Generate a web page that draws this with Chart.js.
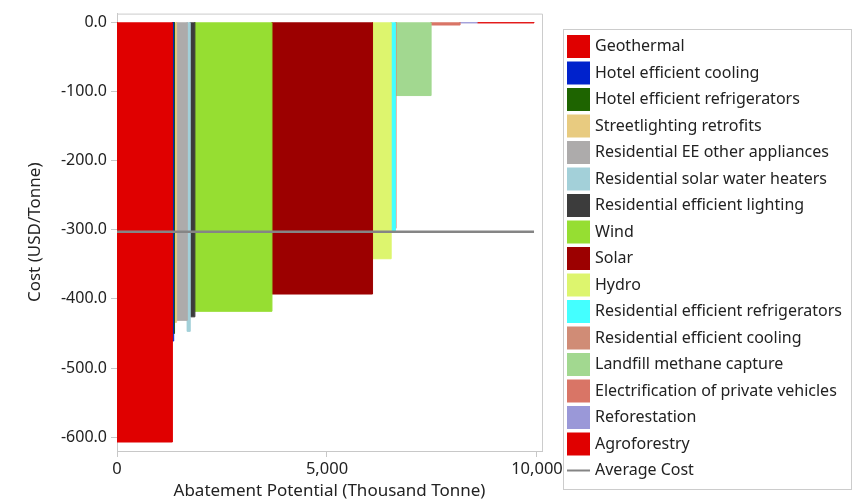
<!DOCTYPE html>
<html>
<head>
<meta charset="utf-8">
<script src="https://cdn.jsdelivr.net/npm/chart.js@4/dist/chart.umd.min.js"></script>
<style>
  html, body { margin: 0; padding: 0; background: #fff; }
  #wrap { width: 859px; height: 501px; }
</style>
</head>
<body>
<div id="wrap"><canvas id="mac"></canvas></div>
<script>
// abatement options, in the order they sit along the curve
const categories = [
  "Geothermal",
  "Hotel efficient cooling",
  "Hotel efficient refrigerators",
  "Streetlighting retrofits",
  "Residential EE other appliances",
  "Residential solar water heaters",
  "Residential efficient lighting",
  "Wind",
  "Solar",
  "Hydro",
  "Residential efficient refrigerators",
  "Residential efficient cooling",
  "Landfill methane capture",
  "Electrification of private vehicles",
  "Reforestation",
  "Agroforestry"
];
// abatement potential (thousand tonne) = bar width
const potential = [1320, 30, 20, 50, 255, 70, 110, 1835, 2395, 445, 100, 15, 835, 690, 410, 1350];
// cost (USD/tonne) = bar height
const cost = [-607, -461, -450, -434, -431, -447, -426, -418, -393, -342, -302, -298, -106, -4, -1, -1];
const colors = [
  "#e00000", "#0022cc", "#1e6400", "#e8cb80", "#adabab", "#a3d0d9", "#3c3c3c", "#96de32",
  "#9c0000", "#ddf56e", "#44ffff", "#d08c76", "#a2d890", "#d97566", "#9a98d8", "#e00000"
];
const averageCost = -303;
const yTicks = [0, -100, -200, -300, -400, -500, -600];
const xTicks = [0, 5000, 10000];

const FONT = '"Noto Sans", "Open Sans", sans-serif';
const TXT = '#222';

// build one filled rectangle per option
var datasets = [];
var start = 0;
for (var i = 0; i < categories.length; i++) {
    var end = start + potential[i];
    datasets.push({
        label: categories[i],
        data: [{x: start, y: 0}, {x: start, y: cost[i]}, {x: end, y: cost[i]}, {x: end, y: 0}],
        showLine: true,
        fill: 'origin',
        backgroundColor: colors[i],
        borderColor: colors[i],
        borderWidth: 1,
        pointRadius: 0,
        tension: 0,
        order: 2
    });
    start = end;
}
var total = start;

datasets.push({
    label: "Average Cost",
    data: [{x: 0, y: averageCost}, {x: total, y: averageCost}],
    showLine: true,
    fill: false,
    borderColor: '#858585',
    borderWidth: 2.5,
    pointRadius: 0,
    order: 1
});

// frame round the plot + legend box on the right
const framePlugin = {
    id: 'frame',
    afterDraw(chart) {
        const ctx = chart.ctx;
        const a = chart.chartArea;
        ctx.save();
        ctx.strokeStyle = '#cccccc';
        ctx.lineWidth = 1;
        ctx.beginPath();
        ctx.moveTo(a.left, a.top + 0.5);
        ctx.lineTo(a.right + 0.5, a.top + 0.5);
        ctx.lineTo(a.right + 0.5, a.bottom);
        ctx.stroke();

        // legend
        const lx = a.right + 21, ly = 29, lw = 288, lh = 460;
        ctx.strokeRect(lx + 0.5, ly + 0.5, lw, lh);
        ctx.font = '16px ' + FONT;
        ctx.textBaseline = 'middle';
        ctx.fillStyle = TXT;
        const step = 26.5;
        const sx = lx + 4, sw = 23, sh = 23;
        let y = ly + 6;
        for (let i = 0; i < categories.length; i++) {
            ctx.fillStyle = colors[i];
            ctx.fillRect(sx, y, sw, sh);
            ctx.fillStyle = TXT;
            ctx.fillText(categories[i], sx + sw + 5, y + sh / 2);
            y += step;
        }
        ctx.strokeStyle = '#858585';
        ctx.lineWidth = 2;
        ctx.beginPath();
        ctx.moveTo(sx, y + sh / 2);
        ctx.lineTo(sx + sw, y + sh / 2);
        ctx.stroke();
        ctx.fillStyle = TXT;
        ctx.fillText("Average Cost", sx + sw + 5, y + sh / 2);
        ctx.restore();
    }
};

new Chart(document.getElementById('mac'), {
    type: 'scatter',
    data: { datasets: datasets },
    plugins: [framePlugin],
    options: {
        responsive: true,
        maintainAspectRatio: false,
        animation: false,
        layout: { padding: { left: 23, right: 317, top: 9, bottom: 0 } },
        plugins: { legend: { display: false }, tooltip: { enabled: false } },
        scales: {
            x: {
                type: 'linear',
                min: 0,
                max: 10120,
                afterBuildTicks: function (s) { s.ticks = xTicks.map(v => ({value: v})); },
                afterFit: function (s) { s.height = 50; },
                ticks: {
                    color: TXT,
                    font: { family: FONT, size: 16.5 },
                    padding: 2,
                    maxRotation: 0,
                    callback: v => v.toLocaleString('en-US')
                },
                grid: { drawOnChartArea: false, tickLength: 6, color: '#c8c8c8' },
                border: { color: '#c8c8c8' },
                title: {
                    display: true,
                    text: 'Abatement Potential (Thousand Tonne)',
                    color: TXT,
                    font: { family: FONT, size: 17 },
                    padding: { top: 0, bottom: 0 }
                }
            },
            y: {
                min: -620,
                max: 12.5,
                afterBuildTicks: function (s) { s.ticks = yTicks.map(v => ({value: v})); },
                afterFit: function (s) { s.width = 94; },
                ticks: {
                    color: TXT,
                    font: { family: FONT, size: 16 },
                    padding: 4,
                    callback: v => v.toFixed(1)
                },
                grid: { drawOnChartArea: false, tickLength: 6, color: '#c8c8c8' },
                border: { color: '#c8c8c8' },
                title: {
                    display: true,
                    text: 'Cost (USD/Tonne)',
                    color: TXT,
                    font: { family: FONT, size: 17 },
                    padding: { top: 2, bottom: 4 }
                }
            }
        }
    }
});
</script>
</body>
</html>
